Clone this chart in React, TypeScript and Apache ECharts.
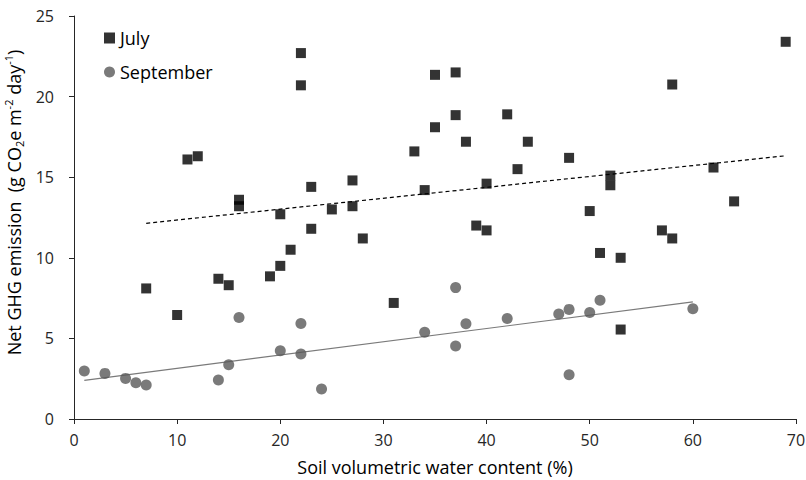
import React, { useEffect, useRef } from "react";
import * as echarts from "echarts";

// July: soil water content (%) and net GHG emission
const julyX = [7, 10, 11, 12, 14, 15, 16, 16, 19, 20, 20, 21, 22, 22, 23, 23, 25, 27, 27, 28, 31, 33, 34, 35, 35, 37, 37, 38, 39, 40, 40, 42, 43, 44, 48, 50, 51, 52, 52, 53, 53, 57, 58, 58, 62, 64, 69];
const julyY = [8.1, 6.45, 16.1, 16.3, 8.7, 8.3, 13.6, 13.2, 8.85, 12.7, 9.5, 10.5, 22.7, 20.7, 14.4, 11.8, 13.0, 14.8, 13.2, 11.2, 7.2, 16.6, 14.2, 21.35, 18.1, 21.5, 18.85, 17.2, 12.0, 14.6, 11.7, 18.9, 15.5, 17.2, 16.2, 12.9, 10.3, 15.1, 14.5, 10.0, 5.55, 11.7, 20.75, 11.2, 15.6, 13.5, 23.4];

// September
const sepX = [1, 3, 5, 6, 7, 14, 15, 16, 20, 22, 22, 24, 34, 37, 37, 38, 42, 47, 48, 48, 50, 51, 60];
const sepY = [2.98, 2.83, 2.52, 2.25, 2.11, 2.42, 3.37, 6.29, 4.24, 5.93, 4.03, 1.86, 5.38, 8.15, 4.53, 5.91, 6.24, 6.51, 6.8, 2.75, 6.6, 7.36, 6.84];

// Linear trend lines (end points)
const julyTrendX = [7, 69];
const julyTrendY = [12.14, 16.33];
const sepTrendX = [1, 60];
const sepTrendY = [2.4, 7.26];

const xTicks = { min: 0, max: 70, interval: 10 };
const yTicks = { min: 0, max: 25, interval: 5 };

const seriesNames = ["July", "September"];

const FONT = "'Open Sans', Lato, sans-serif";

function zip(xs: number[], ys: number[]) {
  return xs.map((x, i) => [x, ys[i]]);
}

export default function App() {
  const ref = useRef<HTMLDivElement>(null);
  useEffect(() => {
    document.body.style.margin = "0";
    const chart = echarts.init(ref.current!, null, { renderer: "svg" });
    chart.setOption({
      animation: false,
      textStyle: { fontFamily: FONT },
      grid: { left: 74, right: 10, top: 16, bottom: 61, containLabel: false, outerBoundsMode: "none" },
      legend: {
        orient: "vertical",
        left: 99,
        top: 24,
        itemWidth: 11,
        itemHeight: 11,
        itemGap: 16,
        textStyle: { fontSize: 18, color: "#000", fontFamily: FONT },
        data: [
          { name: seriesNames[0], icon: "rect" },
          { name: seriesNames[1], icon: "circle" },
        ],
      },
      xAxis: {
        type: "value",
        min: xTicks.min,
        max: xTicks.max,
        interval: xTicks.interval,
        name: "Soil volumetric water content (%)",
        nameLocation: "middle",
        nameGap: 39,
        nameTextStyle: { fontSize: 18, color: "#000", fontFamily: FONT },
        splitLine: { show: false },
        axisLine: { lineStyle: { color: "#262626", width: 1 } },
        axisTick: { show: true, length: 5, lineStyle: { color: "#262626" } },
        axisLabel: { fontSize: 16, color: "#262626", margin: 13, fontFamily: FONT },
      },
      yAxis: {
        type: "value",
        min: yTicks.min,
        max: yTicks.max,
        interval: yTicks.interval,
        name: "Net GHG emission  (g CO{sub|2}e m{sup|-2} day{sup|-1})",
        nameLocation: "middle",
        nameGap: 44,
        nameRotate: 90,
        nameTextStyle: {
          fontSize: 18,
          color: "#000",
          fontFamily: FONT,
          lineHeight: 22,
          padding: [0, 0, 0, 30],
          rich: {
            sub: { fontSize: 11, verticalAlign: "bottom", lineHeight: 22, color: "#000", fontFamily: FONT },
            sup: { fontSize: 11, verticalAlign: "top", lineHeight: 22, color: "#000", fontFamily: FONT },
          },
        },
        splitLine: { show: false },
        axisLine: { show: true, lineStyle: { color: "#262626", width: 1 } },
        axisTick: { show: true, length: 5, lineStyle: { color: "#262626" } },
        axisLabel: { fontSize: 16, color: "#262626", margin: 20, fontFamily: FONT },
      },
      series: [
        {
          name: seriesNames[0],
          type: "scatter",
          symbol: "rect",
          symbolSize: 10,
          itemStyle: { color: "#000" },
          data: zip(julyX, julyY),
          z: 3,
        },
        {
          name: seriesNames[1],
          type: "scatter",
          symbol: "circle",
          symbolSize: 11,
          itemStyle: { color: "#595959" },
          data: zip(sepX, sepY),
          z: 3,
        },
        {
          name: "July trend",
          type: "line",
          symbol: "none",
          lineStyle: { color: "#000", width: 1.2, type: [4, 3] },
          data: zip(julyTrendX, julyTrendY),
          z: 2,
        },
        {
          name: "September trend",
          type: "line",
          symbol: "none",
          lineStyle: { color: "#7a7a7a", width: 1.2 },
          data: zip(sepTrendX, sepTrendY),
          z: 2,
        },
      ],
    });
    return () => chart.dispose();
  }, []);
  return <div ref={ref} style={{ width: 806, height: 480 }} />;
}
